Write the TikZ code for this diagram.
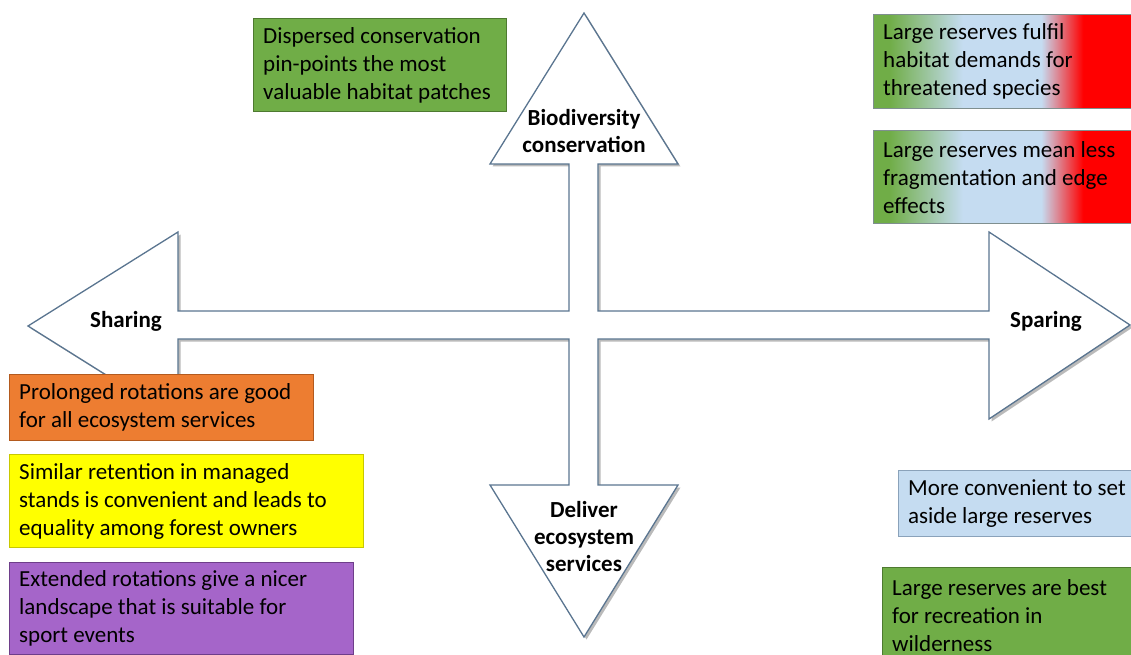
\documentclass[tikz,border=0pt]{standalone}
\usepackage{fontspec}
\setmainfont{Carlito}
\usetikzlibrary{shadows}
\definecolor{arrowline}{HTML}{5A7590}
\definecolor{gGreen}{HTML}{70AD47}
\definecolor{gGreenD}{HTML}{4E7A30}
\definecolor{gOrange}{HTML}{ED7D31}
\definecolor{gOrangeD}{HTML}{B35A1E}
\definecolor{gYellow}{HTML}{FFFF00}
\definecolor{gYellowD}{HTML}{C8C800}
\definecolor{gPurple}{HTML}{A565C9}
\definecolor{gPurpleD}{HTML}{6E3E8A}
\definecolor{gBlue}{HTML}{C5DCF1}
\definecolor{gBlueD}{HTML}{8AA2BA}
\definecolor{gRed}{HTML}{FF0000}
\definecolor{gMixD}{HTML}{7F8F8F}
\pgfdeclarehorizontalshading{gbr}{100bp}{color(0bp)=(gGreen); color(28bp)=(gGreen); color(42bp)=(gBlue); color(57bp)=(gBlue); color(65bp)=(gRed); color(100bp)=(gRed)}
\tikzset{
  card/.style={rectangle, fill=#1, draw=#1D, line width=1.2pt, anchor=north west, inner sep=0pt},
  gcard/.style={rectangle, shading=gbr, draw=gMixD, line width=1.2pt, anchor=north west, inner sep=0pt},
  cardtext/.style={anchor=west, align=left, inner sep=0pt, font=\fontsize{23}{28}\selectfont},
  axislabel/.style={align=center, inner sep=0pt, font=\fontsize{23}{27}\selectfont\bfseries},
  crossarrow/.style={fill=white, draw=arrowline, line width=1.3pt, line join=miter,
    drop shadow={shadow xshift=2.5pt, shadow yshift=-2.5pt, opacity=0.45, fill=black!60}}
}
\begin{document}
\begin{tikzpicture}[x=1pt,y=-1pt]
\useasboundingbox (0,0) rectangle (1131,655);
% the four-headed cross arrow
\path[crossarrow] (584,13) -- (678,164) -- (598,164) -- (598,311) -- (989,311) -- (989,232)
  -- (1130,325) -- (989,419) -- (989,339) -- (598,339) -- (598,485) -- (678,485)
  -- (584,637) -- (490,485) -- (569,485) -- (569,339) -- (178,339) -- (178,420)
  -- (28,326) -- (178,232) -- (178,311) -- (569,311) -- (569,164) -- (490,164) -- cycle;
\node[axislabel] (bio) at (584,131) {Biodiversity\\conservation};
\node[axislabel] (del) at (584,537) {Deliver\\ecosystem\\services};
\node[axislabel, anchor=base] (shar) at (126,327) {Sharing};
\node[axislabel, anchor=base] (spar) at (1046,327) {Sparing};
% boxes
\node[card=gGreen, minimum width=253pt, minimum height=93pt] (b1) at (253,18) {};
\node[cardtext] (t1) at ([xshift=10pt]b1.west) {Dispersed conservation\\pin-points the most\\valuable habitat patches};
\node[gcard, minimum width=262pt, minimum height=94pt] (b2) at (873,14) {};
\node[cardtext] (t2) at ([xshift=10pt]b2.west) {Large reserves fulfil\\habitat demands for\\threatened species};
\node[gcard, minimum width=262pt, minimum height=93pt] (b3) at (873,130) {};
\node[cardtext] (t3) at ([xshift=10pt]b3.west) {Large reserves mean less\\fragmentation and edge\\effects};
\node[card=gOrange, minimum width=304pt, minimum height=66pt] (b4) at (9,374) {};
\node[cardtext] (t4) at ([xshift=10pt]b4.west) {Prolonged rotations are good\\for all ecosystem services};
\node[card=gYellow, minimum width=354pt, minimum height=93pt] (b5) at (9,454) {};
\node[cardtext] (t5) at ([xshift=10pt]b5.west) {Similar retention in managed\\stands is convenient and leads to\\equality among forest owners};
\node[card=gPurple, minimum width=344pt, minimum height=92pt] (b6) at (9,562) {};
\node[cardtext] (t6) at ([xshift=10pt]b6.west) {Extended rotations give a nicer\\landscape that is suitable for\\sport events};
\node[card=gBlue, minimum width=240pt, minimum height=66pt] (b7) at (898,470) {};
\node[cardtext] (t7) at ([xshift=10pt]b7.west) {More convenient to set\\aside large reserves};
\node[card=gGreen, minimum width=255pt, minimum height=95pt] (b8) at (882,567) {};
\node[cardtext] (t8) at ([xshift=10pt]b8.west) {Large reserves are best\\for recreation in\\wilderness};
\end{tikzpicture}
\end{document}
